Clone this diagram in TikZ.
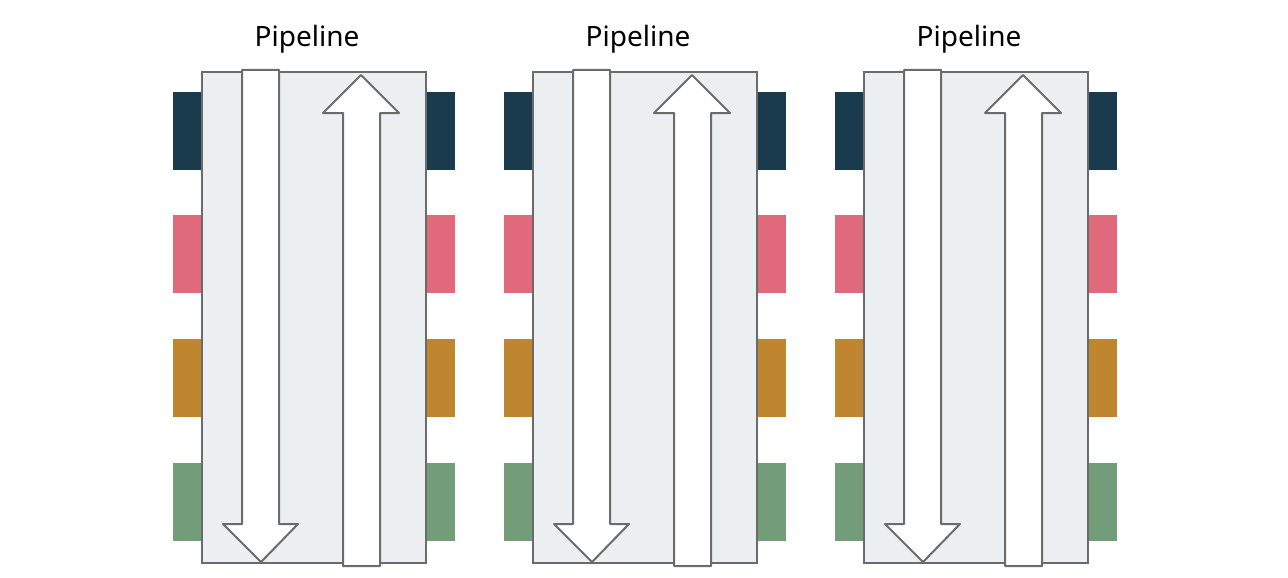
\documentclass[tikz,border=0pt]{standalone}
\usepackage{fontspec}
\setmainfont{Noto Sans}
\definecolor{cdark}{HTML}{1A3B4E}
\definecolor{cpink}{HTML}{E06A7C}
\definecolor{corange}{HTML}{C0862F}
\definecolor{cgreen}{HTML}{739C79}
\definecolor{cpanel}{HTML}{ECEFF2}
\definecolor{cline}{HTML}{6B6B6B}
\tikzset{
  block/.style={draw=none},
  panel/.style={fill=cpanel,draw=cline,line width=2pt},
  bigarrow/.style={fill=white,draw=cline,line width=2pt,line join=round},
  title/.style={anchor=base,font=\fontsize{28}{33}\selectfont,inner sep=0pt}
}
\begin{document}
\begin{tikzpicture}[x=1pt,y=-1pt]
\useasboundingbox (0,0) rectangle (1288,578);
\foreach \i/\dx in {1/0,2/331,3/662}{
  \begin{scope}[xshift=\dx pt]
    \fill[cdark]   (173,92)  rectangle (455,170);
    \fill[cpink]   (173,215) rectangle (455,293);
    \fill[corange] (173,339) rectangle (455,417);
    \fill[cgreen]  (173,463) rectangle (455,541);
    \draw[panel] (202,72) rectangle (426,563);
    \draw[bigarrow] (242,70) -- (279,70) -- (279,524) -- (298,524) -- (261,562) -- (223,524) -- (242,524) -- cycle;
    \draw[bigarrow] (343,566) -- (380,566) -- (380,113) -- (399,113) -- (361,75) -- (323,113) -- (343,113) -- cycle;
    \node[title] (title\i) at (307,47) {Pipeline};
  \end{scope}
}
\end{tikzpicture}
\end{document}
